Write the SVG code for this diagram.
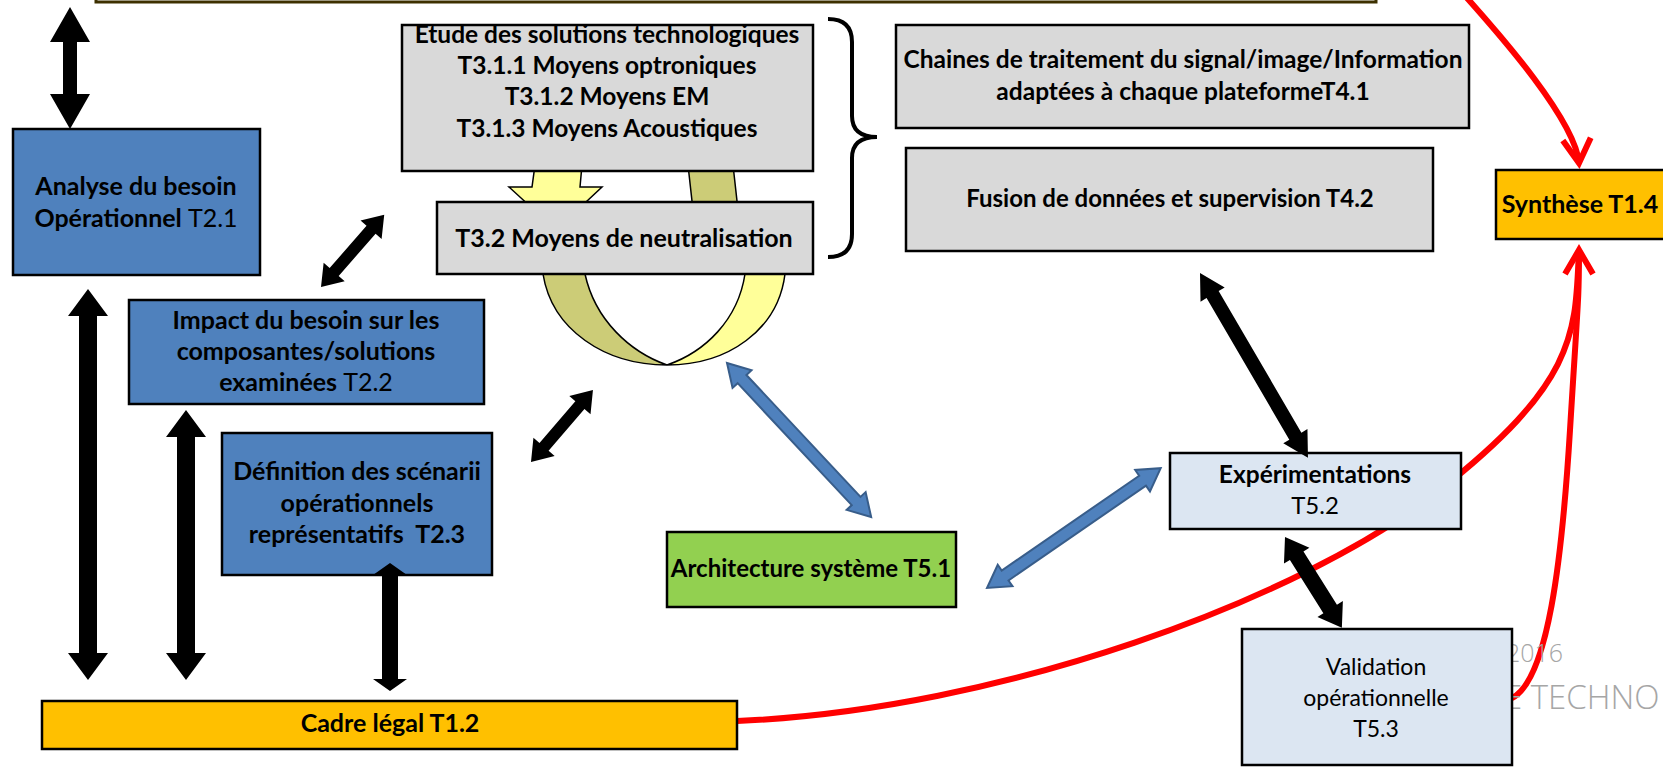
<svg xmlns="http://www.w3.org/2000/svg" width="1663" height="767" viewBox="0 0 1663 767">
<defs>
<style>
.box{stroke:#000;stroke-width:2.5}
.blue{fill:#4f81bd}
.gray{fill:#d9d9d9}
.orange{fill:#ffc000}
.green{fill:#92d050}
.light{fill:#dce6f2}
.t{font-family:Lato,'Liberation Sans',sans-serif;font-size:25px;font-weight:bold;text-anchor:middle;fill:#000}
.s23{font-size:23px}
.s24{font-size:24px}
.s245{font-size:24.5px}
.n{font-weight:normal}
.blk{fill:#000}
.bl{fill:#4f81bd;stroke:#385d8a;stroke-width:2}
.red{fill:none;stroke:#ff0000;stroke-width:6}
.wm{font-family:'Open Sans','Liberation Sans',sans-serif;fill:#a6a6a6;font-weight:300}
.rib{stroke:#000;stroke-width:1.5}
</style>
<marker id="redhead" markerUnits="userSpaceOnUse" markerWidth="40" markerHeight="40" viewBox="0 0 40 40" refX="30" refY="20" orient="auto">
<path d="M6,6 L30,20 L6,34" fill="none" stroke="#ff0000" stroke-width="6" stroke-linejoin="miter"/>
</marker>
</defs>
<rect width="1663" height="767" fill="#fff"/>

<g id="topbar">
<rect x="96" y="-30" width="1280" height="32" fill="none" stroke="#3d3000" stroke-width="3"/>
</g>

<g id="connectors-back">
<path class="red" d="M737,721 C1000,710 1300,600 1440,490 S1575,330 1579,250"/>
<path class="red" d="M1512,698 C1548,680 1562,560 1570,430 S1579,300 1579,250" marker-end="url(#redhead)"/>
<path class="red" d="M1467,-2 C1500,35 1575,120 1579,163" marker-end="url(#redhead)"/>
</g>

<g id="cycle">
<polygon class="rib" points="688,165 733,165 738,210 693,210" fill="#cccc77"/>
<polygon class="rib" points="535,165 582,165 580,187 602,187 556,230 509,187 532,187" fill="#ffff99"/>
<path class="rib" fill="#cccc77" d="M543,262 L585,262 L585,274 C595,320 630,352 667,365 C605,365 552,330 543,274 Z"/>
<path class="rib" fill="#ffff99" d="M745,262 L785,262 L785,274 C778,330 728,365 667,365 C705,352 738,320 745,274 Z"/>
</g>

<g id="watermark">
<text class="wm" x="1506" y="662" font-size="25">2016</text>
<text class="wm" x="1504" y="709" font-size="33">E TECHNO</text>
</g>

<g id="n-analyse">
<rect class="box blue" x="13" y="129" width="247" height="146"/>
<text class="t" x="136" y="195">Analyse du besoin</text>
<text class="t" x="136" y="227">Opérationnel <tspan class="n">T2.1</tspan></text>
</g>

<g id="n-impact">
<rect class="box blue" x="129" y="300" width="355" height="104"/>
<text class="t" x="306" y="329">Impact du besoin sur les</text>
<text class="t" x="306" y="360">composantes/solutions</text>
<text class="t" x="306" y="391">examinées <tspan class="n">T2.2</tspan></text>
</g>

<g id="n-definition">
<rect class="box blue" x="222" y="433" width="270" height="142"/>
<text class="t" x="357" y="480">Définition des scénarii</text>
<text class="t" x="357" y="512">opérationnels</text>
<text class="t" x="357" y="543">représentatifs&#160; T2.3</text>
</g>

<g id="n-cadre">
<rect class="box orange" x="42" y="701" width="695" height="48"/>
<text class="t" x="390" y="732">Cadre légal T1.2</text>
</g>

<g id="n-etude">
<rect class="box gray" x="402" y="25" width="411" height="146"/>
<text class="t s245" x="607" y="43">Etude des solutions technologiques</text>
<text class="t s245" x="607" y="74">T3.1.1 Moyens optroniques</text>
<text class="t s245" x="607" y="105">T3.1.2 Moyens EM</text>
<text class="t s245" x="607" y="137">T3.1.3 Moyens Acoustiques</text>
</g>

<g id="n-neutralisation">
<rect class="box gray" x="437" y="202" width="376" height="72"/>
<text class="t" x="624" y="247">T3.2 Moyens de neutralisation</text>
</g>

<g id="brace">
<path d="M828,19 Q852,19 852,42 L852,116 Q852,137 877,137 Q852,137 852,158 L852,234 Q852,257 828,257" fill="none" stroke="#000" stroke-width="4"/>
</g>

<g id="n-chaines">
<rect class="box gray" x="896" y="25" width="573" height="103"/>
<text class="t s245" x="1183" y="68">Chaines de traitement du signal/image/Information</text>
<text class="t s245" x="1183" y="100">adaptées à chaque plateformeT4.1</text>
</g>

<g id="n-fusion">
<rect class="box gray" x="906" y="148" width="527" height="103"/>
<text class="t s24" x="1170" y="207">Fusion de données et supervision T4.2</text>
</g>

<g id="n-synthese">
<rect class="box orange" x="1496" y="170" width="170" height="69"/>
<text class="t" x="1580" y="213" font-size="26">Synthèse T1.4</text>
</g>

<g id="n-architecture">
<rect class="box green" x="667" y="532" width="289" height="75"/>
<text class="t s24" x="811" y="577">Architecture système T5.1</text>
</g>

<g id="n-experimentations">
<rect class="box light" x="1170" y="453" width="291" height="76"/>
<text class="t s245" x="1315" y="483">Expérimentations</text>
<text class="t s24 n" x="1315" y="514">T5.2</text>
</g>

<g id="n-validation">
<rect class="box light" x="1242" y="629" width="270" height="136"/>
<text class="t s23 n" x="1376" y="675">Validation</text>
<text class="t s23 n" x="1376" y="706">opérationnelle</text>
<text class="t s23 n" x="1376" y="737">T5.3</text>
</g>

<g id="connectors">
<polygon class="blk" transform="translate(70,7) rotate(90)" points="0,0 35,-20 35,-7 87,-7 87,-20 122,0 87,20 87,7 35,7 35,20"/>
<polygon class="blk" transform="translate(88,289) rotate(90)" points="0,0 27,-20 27,-9 364,-9 364,-20 391,0 364,20 364,9 27,9 27,20"/>
<polygon class="blk" transform="translate(186,410) rotate(90)" points="0,0 27,-20 27,-9 243,-9 243,-20 270,0 243,20 243,9 27,9 27,20"/>
<polygon class="blk" transform="translate(390,563) rotate(90)" points="0,0 12,-17 12,-8 116,-8 116,-17 128,0 116,17 116,8 12,8 12,17"/>
<polygon class="blk" transform="translate(321,287) rotate(-48.8)" points="0,0 20,-14 20,-6 76,-6 76,-14 96,0 76,14 76,6 20,6 20,14"/>
<polygon class="blk" transform="translate(531,462) rotate(-49.3)" points="0,0 20,-14 20,-6 75,-6 75,-14 95,0 75,14 75,6 20,6 20,14"/>
<polygon class="blk" transform="translate(1200,273) rotate(59.7)" points="0,0 25,-14 25,-7 189,-7 189,-14 214,0 189,14 189,7 25,7 25,14"/>
<polygon class="blk" transform="translate(1285,537) rotate(57.9)" points="0,0 22,-15 22,-8 85,-8 85,-15 107,0 85,15 85,8 22,8 22,15"/>
<polygon class="bl" transform="translate(727,363) rotate(46.9)" points="0,0 22,-13 22,-6 189,-6 189,-13 211,0 189,13 189,6 22,6 22,13"/>
<polygon class="bl" transform="translate(987,588) rotate(-34.6)" points="0,0 22,-13 22,-6 189,-6 189,-13 211,0 189,13 189,6 22,6 22,13"/>
</g>
</svg>
